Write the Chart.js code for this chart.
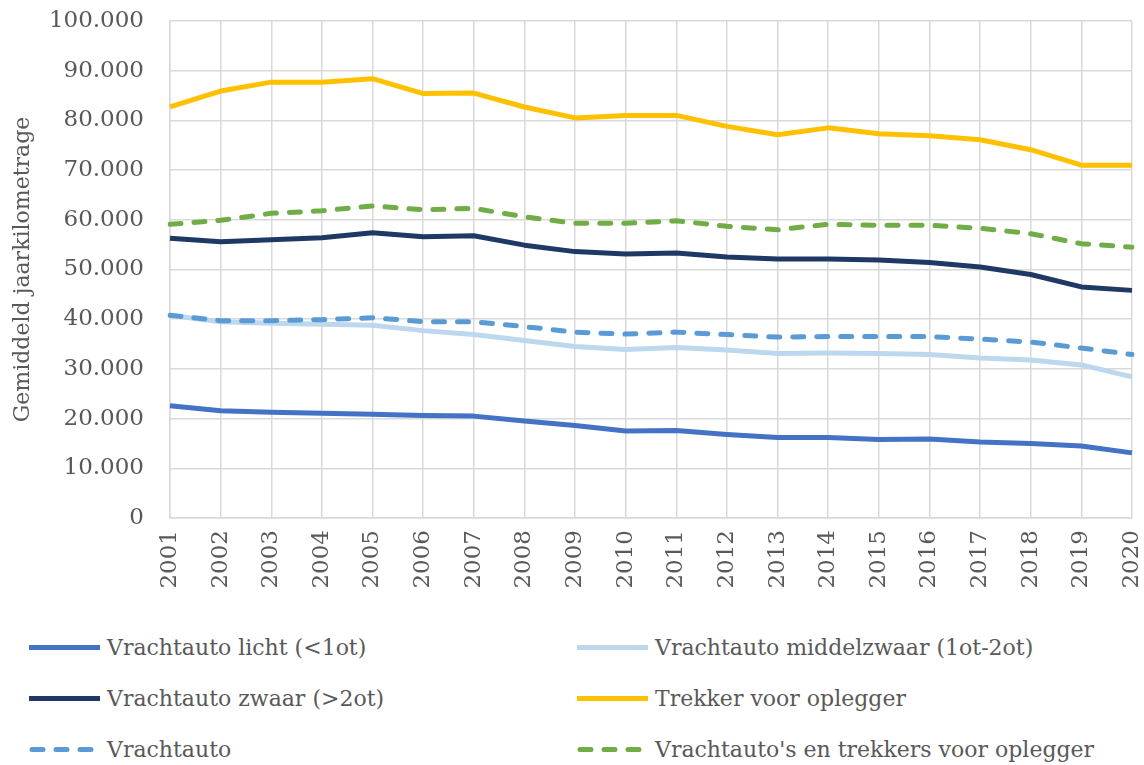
<!DOCTYPE html>
<html>
<head>
<meta charset="utf-8">
<script src="https://cdn.jsdelivr.net/npm/chart.js@4.4.1/dist/chart.umd.min.js"></script>
<style>
  body { margin: 0; background: #fff; font-family: "DejaVu Serif", serif; color: #595959; }
  #wrap { position: relative; width: 1144px; height: 610px; }
  #legend { position: relative; width: 1144px; height: 155px; }
  .item { position: absolute; display: flex; align-items: center; font-size: 22px; white-space: nowrap; transform: translateY(-50%); }
  .item svg { margin-right: 6px; }
</style>
</head>
<body>
<div id="wrap"><canvas id="chart"></canvas></div>
<div id="legend"></div>
<script>
const years = ["2001","2002","2003","2004","2005","2006","2007","2008","2009","2010",
               "2011","2012","2013","2014","2015","2016","2017","2018","2019","2020"];

// gemiddeld jaarkilometrage per voertuigtype
const licht       = [22600,21600,21300,21100,20900,20600,20500,19500,18600,17500,17600,16800,16200,16200,15800,15900,15300,15000,14500,13100];
const middelzwaar = [40800,39500,39200,39000,38800,37700,36900,35700,34500,33900,34300,33800,33100,33200,33100,32900,32200,31800,30800,28400];
const zwaar       = [56300,55600,56000,56400,57400,56600,56800,54900,53600,53100,53300,52500,52100,52100,51900,51400,50500,49000,46500,45800];
const trekker     = [82700,85900,87700,87700,88400,85400,85500,82700,80500,81000,81000,78800,77100,78500,77300,76900,76100,74100,71000,71000];
const vrachtauto  = [40800,39700,39700,39900,40300,39500,39500,38500,37400,37000,37400,36900,36400,36500,36500,36500,36000,35400,34200,32900];
const totaal      = [59100,59900,61300,61800,62800,62000,62300,60600,59300,59300,59800,58700,58000,59100,58900,58900,58300,57200,55200,54500];

const names = ["Vrachtauto licht (<1ot)", "Vrachtauto middelzwaar (1ot-2ot)", "Vrachtauto zwaar (>2ot)",
               "Trekker voor oplegger", "Vrachtauto", "Vrachtauto's en trekkers voor oplegger"];
const colors = ["#4472C4", "#BDD7EE", "#1F3864", "#FFC000", "#5B9BD5", "#70AD47"];
const series = [licht, middelzwaar, zwaar, trekker, vrachtauto, totaal];
const dashed = [false, false, false, false, true, true];

const TEXT = "#595959";
const GRID = "#D9D9D9";
const FONT = '"DejaVu Serif", serif';

function fmt(v) {
  return String(v).replace(/\B(?=(\d{3})+(?!\d))/g, ".");
}

let datasets = [];
for (let i = 0; i < series.length; i++) {
  datasets.push({
    label: names[i],
    data: series[i],
    borderColor: colors[i],
    backgroundColor: colors[i],
    borderWidth: 5,
    pointRadius: 0,
    tension: 0,
    borderDash: dashed[i] ? [11, 13] : [],
    borderCapStyle: dashed[i] ? 'round' : 'butt',
    borderJoinStyle: 'round',
    order: dashed[i] ? 0 : 1,
    fill: false
  });
}

new Chart(document.getElementById("chart").getContext("2d"), {
  type: 'line',
  data: { labels: years, datasets: datasets },
  options: {
    responsive: true,
    maintainAspectRatio: false,
    animation: false,
    layout: { padding: { left: 6, right: 12, top: 21, bottom: 0 } },
    plugins: {
      legend: { display: false },
      tooltip: { enabled: false }
    },
    scales: {
      x: {
        offset: false,
        grid: { color: GRID, lineWidth: 1.5, drawTicks: false },
        border: { color: GRID, width: 1.5 },
        ticks: {
          minRotation: 90, maxRotation: 90, padding: 12,
          color: TEXT, font: { family: FONT, size: 23 }
        },
        afterFit: function (s) { s.height = 92; s.paddingLeft = 0; s.paddingRight = 0; }
      },
      y: {
        min: 0, max: 100000,
        grid: { color: GRID, lineWidth: 1.5, drawTicks: false },
        border: { color: GRID, width: 1.5 },
        ticks: {
          stepSize: 10000, padding: 26,
          color: TEXT, font: { family: FONT, size: 23 },
          callback: function (v) { return fmt(v); }
        },
        title: {
          display: true, text: "Gemiddeld jaarkilometrage",
          color: TEXT, font: { family: FONT, size: 22 }
        },
        afterFit: function (s) { s.width = 164; s.paddingTop = 0; s.paddingBottom = 0; }
      }
    }
  }
});

// legenda in twee kolommen
const legendPos = [[29, 37], [577, 37], [29, 88], [577, 88], [29, 139], [577, 139]];
let box = document.getElementById("legend");
for (let i = 0; i < names.length; i++) {
  let div = document.createElement("div");
  div.className = "item";
  div.style.left = legendPos[i][0] + "px";
  div.style.top = legendPos[i][1] + "px";
  let dash = dashed[i] ? 'stroke-dasharray="11 13" stroke-linecap="round"' : '';
  let x1 = dashed[i] ? 3 : 0, x2 = dashed[i] ? 68 : 71;
  div.innerHTML = `<svg width="72" height="8"><line x1="${x1}" y1="4" x2="${x2}" y2="4" stroke="${colors[i]}" stroke-width="5" ${dash}/></svg>`;
  let span = document.createElement("span");
  span.textContent = names[i];
  div.appendChild(span);
  box.appendChild(div);
}
</script>
</body>
</html>
